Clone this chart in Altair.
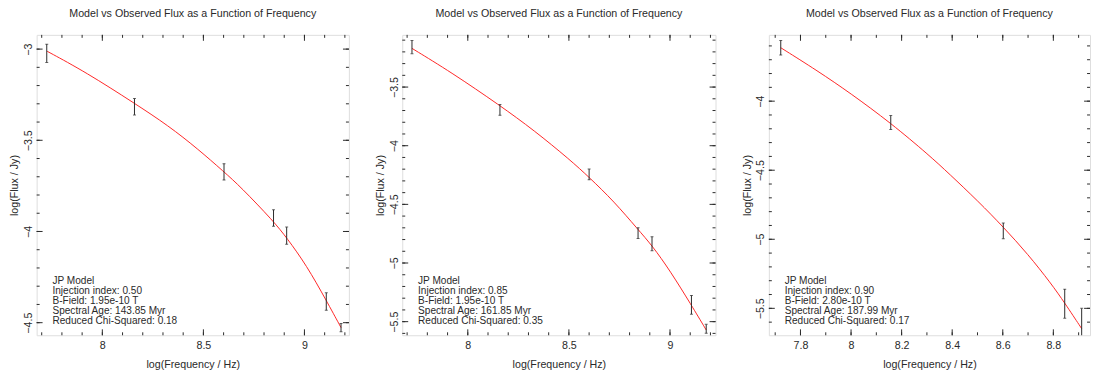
import altair as alt
import numpy as np
import pandas as pd

FONT = "Liberation Sans"
FS = 10.8
INFO_FS = 10.2
TITLE = "Model vs Observed Flux as a Function of Frequency"
X_TITLE = "log(Frequency / Hz)"
Y_TITLE = "log(Flux / Jy)"

# ---------------- Panel 1 ----------------
p1_freq = [7.725, 8.159, 8.602, 8.847, 8.912, 9.108, 9.181]
p1_flux = [-3.023, -3.316, -3.673, -3.926, -4.023, -4.384, -4.527]
p1_err = [0.050, 0.045, 0.045, 0.045, 0.047, 0.048, 0.023]
p1_model_x = [7.727, 7.919, 8.159, 8.327, 8.472, 8.602, 8.684, 8.847, 8.912, 9.010, 9.108, 9.181]
p1_model_y = [-3.012, -3.127, -3.297, -3.420, -3.547, -3.673, -3.755, -3.944, -4.034, -4.185, -4.378, -4.527]
p1_info = ["JP Model", "Injection index: 0.50", "B-Field: 1.95e-10 T",
           "Spectral Age: 143.85 Myr", "Reduced Chi-Squared: 0.18"]

# ---------------- Panel 2 ----------------
p2_freq = [7.724, 8.159, 8.600, 8.842, 8.911, 9.106, 9.179]
p2_flux = [-3.159, -3.695, -4.245, -4.745, -4.836, -5.356, -5.561]
p2_err = [0.056, 0.046, 0.046, 0.046, 0.060, 0.080, 0.038]
p2_model_x = [7.724, 7.919, 8.159, 8.327, 8.506, 8.600, 8.723, 8.842, 8.911, 9.000, 9.106, 9.179]
p2_model_y = [-3.170, -3.375, -3.657, -3.868, -4.121, -4.269, -4.475, -4.715, -4.850, -5.065, -5.360, -5.571]
p2_info = ["JP Model", "Injection index: 0.85", "B-Field: 1.95e-10 T",
           "Spectral Age: 161.85 Myr", "Reduced Chi-Squared: 0.35"]

# ---------------- Panel 3 ----------------
p3_freq = [7.722, 8.157, 8.602, 8.845, 8.912]
p3_flux = [-3.613, -4.155, -4.939, -5.466, -5.600]
p3_err = [0.053, 0.051, 0.057, 0.105, 0.100]
p3_model_x = [7.722, 7.868, 7.998, 8.157, 8.309, 8.387, 8.504, 8.602, 8.700, 8.791, 8.845, 8.912]
p3_model_y = [-3.613, -3.781, -3.943, -4.158, -4.392, -4.524, -4.727, -4.911, -5.109, -5.320, -5.461, -5.647]
p3_info = ["JP Model", "Injection index: 0.90", "B-Field: 2.80e-10 T",
           "Spectral Age: 187.99 Myr", "Reduced Chi-Squared: 0.17"]

# axis domains and tick labels
p1_xdom, p1_ydom = [7.675, 9.22], [-4.569, -2.922]
p2_xdom, p2_ydom = [7.676, 9.225], [-5.616, -3.055]
p3_xdom, p3_ydom = [7.675, 8.945], [-5.695, -3.520]
p1_xlab, p1_ylab = [8, 8.5, 9], [-3, -3.5, -4, -4.5]
p2_xlab, p2_ylab = [8, 8.5, 9], [-3.5, -4, -4.5, -5, -5.5]
p3_xlab, p3_ylab = [7.8, 8, 8.2, 8.4, 8.6, 8.8], [-4, -4.5, -5, -5.5]

HEIGHT = 304
MAJOR, MINOR = 6, 3
INK = "#2a2a2a"


def minor_ticks(dom, step=0.1):
    lo = np.ceil(dom[0] / step - 1e-6) * step
    vals = np.round(np.arange(lo, dom[1] + 1e-9, step), 3)
    return [v for v in vals if dom[0] <= v <= dom[1]]


def panel(mx, my, fx, fy, fe, xdom, ydom, xlab, ylab, info, width):
    model = pd.DataFrame({"x": mx, "y": my})
    obs = pd.DataFrame({"x": fx, "y": fy, "e": fe})
    obs["lo"] = obs["y"] - obs["e"]
    obs["hi"] = obs["y"] + obs["e"]

    xs = alt.Scale(domain=xdom, nice=False, zero=False)
    ys = alt.Scale(domain=ydom, nice=False, zero=False)
    common = dict(format="~g", ticks=False, tickSize=0, domain=False, grid=False,
                  labelFont=FONT, labelFontSize=FS, labelColor=INK,
                  titleFont=FONT, titleFontSize=FS, titleFontWeight="normal", titleColor=INK)
    xax = alt.Axis(values=xlab, labelPadding=4, titlePadding=9, **common)
    yax = alt.Axis(values=ylab, labelAngle=270, labelAlign="center", labelBaseline="bottom",
                   labelPadding=3, titlePadding=3, **common)
    X = alt.X("x:Q", scale=xs, axis=xax, title=X_TITLE)
    Y = alt.Y("y:Q", scale=ys, axis=yax, title=Y_TITLE)

    layers = []
    layers.append(alt.Chart(model).mark_line(color="#ff2626", strokeWidth=1,
                                             interpolate="basis", clip=True).encode(x=X, y=Y))
    layers.append(alt.Chart(obs).mark_rule(color=INK, strokeWidth=1, clip=True).encode(
        x=X, y=alt.Y("lo:Q", scale=ys, axis=yax, title=Y_TITLE), y2="hi:Q"))
    for col in ["lo", "hi"]:
        layers.append(alt.Chart(obs).mark_tick(orient="horizontal", size=3, thickness=1,
                                               color=INK, clip=True).encode(
            x=X, y=alt.Y(f"{col}:Q", scale=ys, axis=yax, title=Y_TITLE)))

    # inward ticks on all four sides
    xmin = pd.DataFrame({"x": minor_ticks(xdom)})
    ymin = pd.DataFrame({"y": minor_ticks(ydom)})
    xmaj = pd.DataFrame({"x": xlab})
    ymaj = pd.DataFrame({"y": ylab})
    for df, ln in [(xmin, MINOR), (xmaj, MAJOR)]:
        layers.append(alt.Chart(df).mark_rule(color=INK, strokeWidth=1).encode(
            x=X, y=alt.value(HEIGHT), y2=alt.value(HEIGHT - ln)))
        layers.append(alt.Chart(df).mark_rule(color=INK, strokeWidth=1).encode(
            x=X, y=alt.value(0), y2=alt.value(ln)))
    for df, ln in [(ymin, MINOR), (ymaj, MAJOR)]:
        layers.append(alt.Chart(df).mark_rule(color=INK, strokeWidth=1).encode(
            y=Y, x=alt.value(0), x2=alt.value(ln)))
        layers.append(alt.Chart(df).mark_rule(color=INK, strokeWidth=1).encode(
            y=Y, x=alt.value(width), x2=alt.value(width - ln)))

    txt = pd.DataFrame({"t": ["\n".join(info)]})
    layers.append(alt.Chart(txt).mark_text(align="left", baseline="top", lineBreak="\n",
                                           fontSize=INFO_FS, lineHeight=10.2, font=FONT,
                                           color=INK).encode(
        x=alt.value(16), y=alt.value(244), text="t:N"))

    return alt.layer(*layers).properties(
        width=width, height=HEIGHT,
        title=alt.TitleParams(TITLE, fontSize=FS, font=FONT, fontWeight="normal",
                              color=INK, offset=16, anchor="middle"))


c1 = panel(p1_model_x, p1_model_y, p1_freq, p1_flux, p1_err, p1_xdom, p1_ydom,
           p1_xlab, p1_ylab, p1_info, 316)
c2 = panel(p2_model_x, p2_model_y, p2_freq, p2_flux, p2_err, p2_xdom, p2_ydom,
           p2_xlab, p2_ylab, p2_info, 317)
c3 = panel(p3_model_x, p3_model_y, p3_freq, p3_flux, p3_err, p3_xdom, p3_ydom,
           p3_xlab, p3_ylab, p3_info, 325)

chart = alt.hconcat(c1, c2, c3, spacing=24).properties(
    padding={"left": 0, "top": -3, "right": 0, "bottom": 0}
).configure_view(stroke="black", strokeWidth=1).configure(background="white")

chart.save("out.html", embed_options={"renderer": "svg", "actions": False})
